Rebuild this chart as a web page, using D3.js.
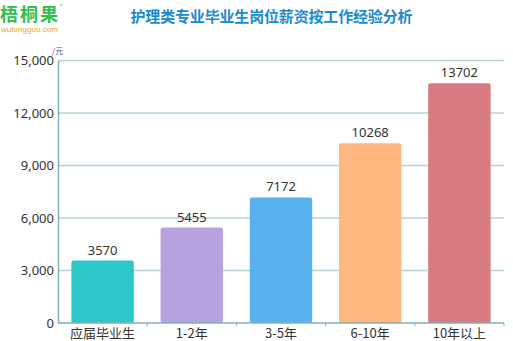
<!DOCTYPE html>
<html><head><meta charset="utf-8">
<script src="https://cdn.jsdelivr.net/npm/d3@7"></script>
<style>body{margin:0;background:#fff;}svg{display:block;font-family:"Noto Sans CJK SC","Microsoft YaHei",sans-serif;}</style>
</head><body>
<script>
const categories = ["应届毕业生", "1-2年", "3-5年", "6-10年", "10年以上"];
const values = [3570, 5455, 7172, 10268, 13702];
const colors = ["#2ec7c9", "#b6a2de", "#5ab1ef", "#ffb980", "#d87a80"];
const yTicks = [0, 3000, 6000, 9000, 12000, 15000];
const title = "护理类专业毕业生岗位薪资按工作经验分析";

const W = 513, H = 341;
const m = {left: 58, right: 9, top: 60.5, bottom: 18};
const svg = d3.select("body").append("svg").attr("width", W).attr("height", H);

// logo
svg.append("text").attr("x", 0).attr("y", 20.5).attr("font-size", 18).attr("font-weight", "bold")
  .attr("fill", "#2fbf4f").attr("textLength", 58).text("梧桐果");
svg.append("text").attr("x", 60).attr("y", 8).attr("font-size", 5).attr("fill", "#2fbf4f").text("®");
svg.append("text").attr("x", 1).attr("y", 31.5).attr("font-size", 8).attr("fill", "#f5a623")
  .attr("font-family", "Liberation Sans, Arial, sans-serif").attr("textLength", 57).text("wutongguo.com");

// title
svg.append("text").attr("x", 271.5).attr("y", 22).attr("text-anchor", "middle").attr("font-size", 15)
  .attr("font-weight", "bold").attr("fill", "#1a8ad0").attr("textLength", 282).text(title);

const x = d3.scaleBand().domain(categories).range([m.left, W - m.right]).paddingInner(0.3).paddingOuter(0.15);
const y = d3.scaleLinear().domain([0, 15000]).range([H - m.bottom, m.top]);

// grid
svg.append("g").selectAll("line").data(yTicks.filter(d => d > 0)).join("line")
  .attr("x1", m.left).attr("x2", W - m.right)
  .attr("y1", d => y(d)).attr("y2", d => y(d))
  .attr("stroke", "#b3d5d9").attr("stroke-width", 1.5);

// y axis
const yAxis = svg.append("g").attr("transform", `translate(${m.left},0)`)
  .call(d3.axisLeft(y).tickValues(yTicks).tickFormat(d3.format(",")).tickSize(0).tickPadding(4));
yAxis.select(".domain").attr("stroke", "#7fb1b9").attr("stroke-width", 1.5);
yAxis.selectAll("text").attr("font-size", 13).attr("fill", "#333").attr("font-family", "Noto Sans, sans-serif");
svg.append("text").attr("x", 52).attr("y", 54).attr("font-size", 8).attr("fill", "#555").text("/元");

// bars
svg.append("g").selectAll("rect").data(values).join("rect")
  .attr("x", (d, i) => x(categories[i])).attr("width", x.bandwidth())
  .attr("y", d => y(d)).attr("height", d => y(0) - y(d))
  .attr("fill", (d, i) => colors[i]).attr("rx", 2);

svg.append("g").selectAll("text").data(values).join("text")
  .attr("x", (d, i) => x(categories[i]) + x.bandwidth() / 2)
  .attr("y", d => y(d) - 6).attr("text-anchor", "middle")
  .attr("font-size", 13).attr("fill", "#333").attr("font-family", "Noto Sans, sans-serif").text(d => d);

// x axis
const step = (W - m.right - m.left) / categories.length;
const xg = svg.append("g");
xg.append("line").attr("x1", m.left).attr("x2", W - m.right).attr("y1", y(0)).attr("y2", y(0))
  .attr("stroke", "#7fb1b9").attr("stroke-width", 1.5);
xg.selectAll("line.t").data(d3.range(1, categories.length + 1)).join("line").attr("class", "t")
  .attr("x1", i => m.left + i * step).attr("x2", i => m.left + i * step)
  .attr("y1", y(0)).attr("y2", y(0) + 3).attr("stroke", "#7fb1b9");
xg.selectAll("text").data(categories).join("text")
  .attr("x", d => x(d) + x.bandwidth() / 2).attr("y", y(0) + 15).attr("text-anchor", "middle")
  .attr("font-size", 13).attr("fill", "#333").text(d => d);
</script>
</body></html>
